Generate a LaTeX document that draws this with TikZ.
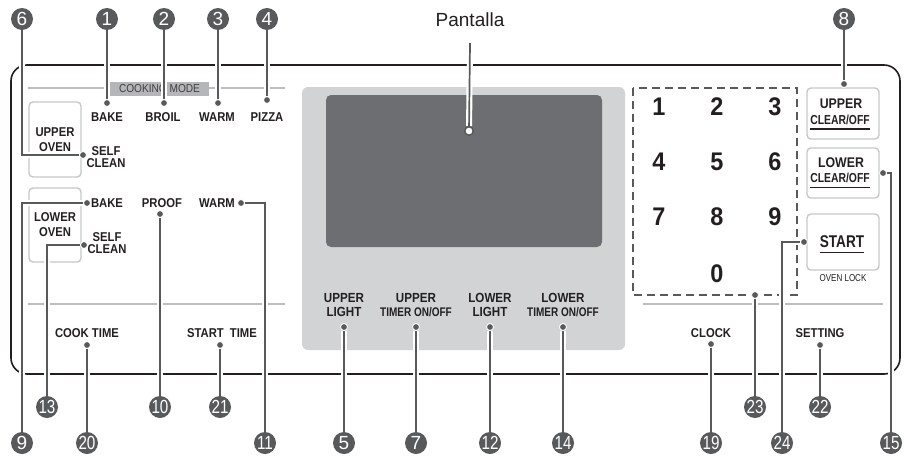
\documentclass[tikz,border=0pt]{standalone}
\usepackage{fontspec}
\setmainfont{Liberation Sans}
\newfontfamily\condfont{Liberation Sans}[FakeStretch=0.8]
\newfontfamily\lblfam{Liberation Sans}[FakeStretch=0.88]
\newfontfamily\keyfam{Liberation Sans}[FakeStretch=0.92]
\newfontfamily\twofont{Liberation Sans}[FakeStretch=0.8]
\definecolor{ink}{HTML}{231F20}
\definecolor{cgray}{HTML}{58595B}
\definecolor{panelgray}{HTML}{D1D3D4}
\definecolor{screengray}{HTML}{6D6E71}
\definecolor{linegray}{HTML}{BCBEC0}
\definecolor{boxgray}{HTML}{B4B6B9}
\definecolor{btngray}{HTML}{C7C8CA}
\definecolor{tagtext}{HTML}{414042}
\pgfdeclarelayer{back}
\pgfdeclarelayer{front}
\pgfsetlayers{back,main,front}
\newcommand\twodig[1]{{\twofont #1}}
\tikzset{
  lbl/.style={font=\fontsize{12.8}{13}\selectfont\lblfam\bfseries, text=ink, inner sep=0pt, align=center, text depth=0pt},
  glbl/.style={font=\fontsize{13.2}{14}\selectfont\lblfam\bfseries, text=ink, inner sep=0pt, align=center, text depth=0pt},
  key/.style={font=\fontsize{25.5}{26}\selectfont\keyfam\bfseries, text=ink, inner sep=0pt, text depth=0pt},
  numc/.style={circle, fill=cgray, text=white, minimum size=22pt, inner sep=0pt, font=\fontsize{19}{19}\selectfont},
  dotc/.style={circle, fill=cgray, draw=white, line width=0.9pt, minimum size=7pt, inner sep=0pt},
  conn/.style={draw=cgray, line width=1.7pt, preaction={draw=white, line width=6pt}},
  btn/.style={draw=btngray, line width=1.4pt, rounded corners=4pt, inner sep=0pt},
  sepline/.style={draw=linegray, line width=2pt},
  uline/.style={draw=ink, line width=1.6pt},
}
\begin{document}
\begin{tikzpicture}[x=1pt,y=-1pt]
\useasboundingbox (0,0) rectangle (904,455);
\begin{pgfonlayer}{back}
  \fill[white] (0,0) rectangle (904,455);
  % main panel outline
  \draw[ink, line width=1.6pt, rounded corners=16pt] (11,65) rectangle (900,374);
  % display area
  \fill[panelgray, rounded corners=6pt] (302,87) rectangle (625,350);
  \fill[screengray, rounded corners=5pt] (326,95) rectangle (602,247);
  % separators
  \draw[sepline] (28,88) -- (285,88);
  \draw[sepline] (28,304) -- (285,304);
  \draw[sepline] (643,304) -- (883,304);
  % keypad dashed box
  \draw[cgray, line width=2.2pt, dash pattern=on 8pt off 5pt] (633,88) rectangle (797,295);
  % cooking mode tag
  \node[fill=boxgray, minimum width=99pt, minimum height=14pt, inner sep=0pt,
        font=\fontsize{11.5}{11}\selectfont\lblfam, text=tagtext] (cmode) at (159.5,89) {COOKING MODE};
  % left buttons
  \node[btn, minimum width=52pt, minimum height=75pt, align=center,
        font=\fontsize{12.8}{15.5}\selectfont\lblfam\bfseries, text=ink] (ubtn) at (55,139.5) {UPPER\\OVEN};
  \node[btn, minimum width=52pt, minimum height=74pt, align=center,
        font=\fontsize{12.8}{15}\selectfont\lblfam\bfseries, text=ink] (lbtn) at (55,225) {LOWER\\OVEN};
  % right buttons
  \node[btn, minimum width=72pt, minimum height=51pt] (ucbtn) at (843,113.5) {};
  \node[btn, minimum width=72pt, minimum height=50pt] (lcbtn) at (843,173) {};
  \node[btn, minimum width=72pt, minimum height=56pt] (stbtn) at (843,242) {};
\end{pgfonlayer}

\begin{pgfonlayer}{front}
  % Pantalla
  \node[font=\fontsize{19}{19}\selectfont, text=ink, inner sep=0pt] (pant) at (470,20) {Pantalla};
  \node[circle, draw=cgray, fill=white, line width=1.5pt, minimum size=8.5pt, inner sep=0pt] (pdot) at (469,131) {};
  % upper oven labels
  \node[lbl] (bake1) at (107,117) {BAKE};
  \node[lbl] (broil) at (163,117) {BROIL};
  \node[lbl] (warm1) at (217,117) {WARM};
  \node[lbl] (pizza) at (267,117) {PIZZA};
  \node[lbl, font=\fontsize{12.8}{12}\selectfont\lblfam\bfseries] (self1) at (106,157) {SELF\\CLEAN};
  % lower oven labels
  \node[lbl] (bake2) at (107,203) {BAKE};
  \node[lbl] (proof) at (162,203) {PROOF};
  \node[lbl] (warm2) at (217,203) {WARM};
  \node[lbl, font=\fontsize{12.8}{12}\selectfont\lblfam\bfseries] (self2) at (107,243) {SELF\\CLEAN};
  \node[lbl] (cook) at (87,333) {COOK TIME};
  \node[lbl] (stime) at (222,333) {START\hspace{3pt} TIME};
  % display panel labels
  \node[glbl] (ulight) at (344,305) {UPPER\\LIGHT};
  \node[glbl] (utimer) at (416,305) {UPPER\\{\fontsize{12.5}{14}\selectfont\condfont\bfseries TIMER ON/OFF}};
  \node[glbl] (llight) at (490,305) {LOWER\\LIGHT};
  \node[glbl] (ltimer) at (563,305) {LOWER\\{\fontsize{12.5}{14}\selectfont\condfont\bfseries TIMER ON/OFF}};
  % keypad
  \node[key] (k1) at (659,107) {1};
  \node[key] (k2) at (717,107) {2};
  \node[key] (k3) at (775,107) {3};
  \node[key] (k4) at (659,162) {4};
  \node[key] (k5) at (717,162) {5};
  \node[key] (k6) at (775,162) {6};
  \node[key] (k7) at (659,217) {7};
  \node[key] (k8) at (717,217) {8};
  \node[key] (k9) at (775,217) {9};
  \node[key] (k0) at (717,274) {0};
  % right side labels
  \node[lbl, font=\fontsize{14}{14}\selectfont\lblfam\bfseries] (ucu) at (841,104) {UPPER};
  \node[lbl, font=\fontsize{13}{14}\selectfont\condfont\bfseries] (ucc) at (840,119.5) {CLEAR/OFF};
  \node[lbl, font=\fontsize{14}{14}\selectfont\lblfam\bfseries] (lcu) at (841,163) {LOWER};
  \node[lbl, font=\fontsize{13}{14}\selectfont\condfont\bfseries] (lcc) at (840,178) {CLEAR/OFF};
  \node[lbl, font=\fontsize{17}{16}\selectfont\condfont\bfseries] (start) at (842,242) {START};
  \node[lbl, font=\fontsize{10}{10}\selectfont\condfont] (olock) at (843,278) {OVEN LOCK};
  \node[lbl] (clock) at (711,333) {CLOCK};
  \node[lbl] (setting) at (820,333) {SETTING};
  % underlines
  \draw[uline] ([yshift=-4.5pt]ucc.south west) -- ([yshift=-4.5pt]ucc.south east);
  \draw[uline] ([yshift=-4.5pt]lcc.south west) -- ([yshift=-4.5pt]lcc.south east);
  \draw[uline] ([yshift=-4.5pt]start.south west) -- ([yshift=-4.5pt]start.south east);
  % dots
  \node[dotc] (d1) at (107,103) {};
  \node[dotc] (d2) at (164,103) {};
  \node[dotc] (d3) at (218,103) {};
  \node[dotc] (d4) at (267,100) {};
  \node[dotc] (d6) at (83,155) {};
  \node[dotc] (d9) at (87,203) {};
  \node[dotc] (d10) at (160,214) {};
  \node[dotc] (d11) at (241,203) {};
  \node[dotc] (d13) at (84,245) {};
  \node[dotc] (d20) at (87,345) {};
  \node[dotc] (d21) at (220,345) {};
  \node[dotc] (d5) at (344,327) {};
  \node[dotc] (d7) at (416,327) {};
  \node[dotc] (d12) at (490,327) {};
  \node[dotc] (d14) at (563,327) {};
  \node[dotc] (d8) at (844,84) {};
  \node[dotc] (d15) at (883,173) {};
  \node[dotc] (d24) at (804,242) {};
  \node[dotc] (d23) at (755,295) {};
  \node[dotc] (d19) at (711,344) {};
  \node[dotc] (d22) at (820,345) {};
  % numbered callouts
  \node[numc] (n6) at (22,19) {6};
  \node[numc] (n1) at (107,19) {1};
  \node[numc] (n2) at (164,19) {2};
  \node[numc] (n3) at (218,19) {3};
  \node[numc] (n4) at (267,19) {4};
  \node[numc] (n8) at (844,19) {8};
  \node[numc] (n9) at (22,443) {9};
  \node[numc] (n13) at (47,407) {\twodig{13}};
  \node[numc] (n20) at (87,443) {\twodig{20}};
  \node[numc] (n10) at (160,407) {\twodig{10}};
  \node[numc] (n21) at (220,407) {\twodig{21}};
  \node[numc] (n11) at (265,443) {\twodig{11}};
  \node[numc] (n5) at (344,443) {5};
  \node[numc] (n7) at (416,443) {7};
  \node[numc] (n12) at (490,443) {\twodig{12}};
  \node[numc] (n14) at (563,443) {\twodig{14}};
  \node[numc] (n19) at (711,443) {\twodig{19}};
  \node[numc] (n23) at (755,407) {\twodig{23}};
  \node[numc] (n24) at (782,443) {\twodig{24}};
  \node[numc] (n22) at (820,407) {\twodig{22}};
  \node[numc] (n15) at (891,443) {\twodig{15}};
\end{pgfonlayer}

% connectors
\draw[conn] ([yshift=-16pt]pant.south) -- (pdot);
\draw[conn] (n1) -- (d1);
\draw[conn] (n2) -- (d2);
\draw[conn] (n3) -- (d3);
\draw[conn] (n4) -- (d4);
\draw[conn] (n6) |- (d6);
\draw[conn] (n8) -- (d8);
\draw[conn] (n9) |- (d9);
\draw[conn] (n13) |- (d13);
\draw[conn] (n10) -- (d10);
\draw[conn] (n11) |- (d11);
\draw[conn] (n20) -- (d20);
\draw[conn] (n21) -- (d21);
\draw[conn] (n5) -- (d5);
\draw[conn] (n7) -- (d7);
\draw[conn] (n12) -- (d12);
\draw[conn] (n14) -- (d14);
\draw[conn] (n19) -- (d19);
\draw[conn] (n23) -- (d23);
\draw[conn] (n24) |- (d24);
\draw[conn] (n22) -- (d22);
\draw[conn] (n15) |- (d15);
\end{tikzpicture}
\end{document}
